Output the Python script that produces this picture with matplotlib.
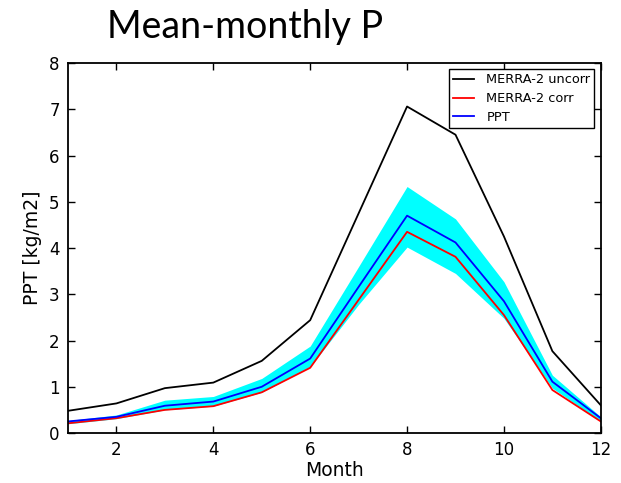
import numpy as np
import matplotlib
matplotlib.use("Agg")
import matplotlib.pyplot as plt

months = np.arange(1, 13)
merra_uncorr = [0.48, 0.64, 0.97, 1.09, 1.56, 2.44, 4.75, 7.06, 6.45, 4.25, 1.77, 0.60]
merra_corr = [0.21, 0.32, 0.50, 0.58, 0.88, 1.41, 2.88, 4.35, 3.81, 2.55, 0.93, 0.25]
ppt = [0.25, 0.35, 0.59, 0.68, 1.00, 1.61, 3.16, 4.70, 4.12, 2.85, 1.11, 0.32]
ppt_hi = [0.27, 0.39, 0.71, 0.79, 1.18, 1.88, 3.60, 5.33, 4.63, 3.27, 1.25, 0.35]
ppt_lo = [0.20, 0.31, 0.50, 0.58, 0.88, 1.43, 2.78, 4.02, 3.45, 2.48, 0.97, 0.25]

fig = plt.figure(figsize=(6.21, 4.83), dpi=100)
ax = fig.add_axes([0.1095, 0.1035, 0.858, 0.766])

ax.fill_between(months, ppt_lo, ppt_hi, color='cyan', linewidth=0)
ax.plot(months, merra_uncorr, color='black', lw=1.3, label='MERRA-2 uncorr')
ax.plot(months, merra_corr, color='red', lw=1.3, label='MERRA-2 corr')
ax.plot(months, ppt, color='blue', lw=1.3, label='PPT')

ax.set_xlim(1, 12)
ax.set_ylim(0, 8)
ax.set_xticks([2, 4, 6, 8, 10, 12])
ax.set_yticks(range(0, 9))
ax.tick_params(direction='in', length=5, width=1, top=True, right=True, labelsize=12, pad=6)
for s in ax.spines.values():
    s.set_linewidth(1.3)
ax.set_xlabel("Month", fontsize=13.5, labelpad=1)
ax.set_ylabel("PPT [kg/m2]", fontsize=13.5, labelpad=5)

leg = ax.legend(loc='upper right', fontsize=9.3, fancybox=False, framealpha=1,
                borderaxespad=0.5, borderpad=0.3, handlelength=1.6,
                handletextpad=1.0, labelspacing=0.45)
leg.get_frame().set_edgecolor('black')
leg.get_frame().set_linewidth(1)

fig.text(0.172, 0.921, "Mean-monthly P", fontsize=27, family='Lato', va='baseline')

fig.savefig("out.png", dpi=100)
